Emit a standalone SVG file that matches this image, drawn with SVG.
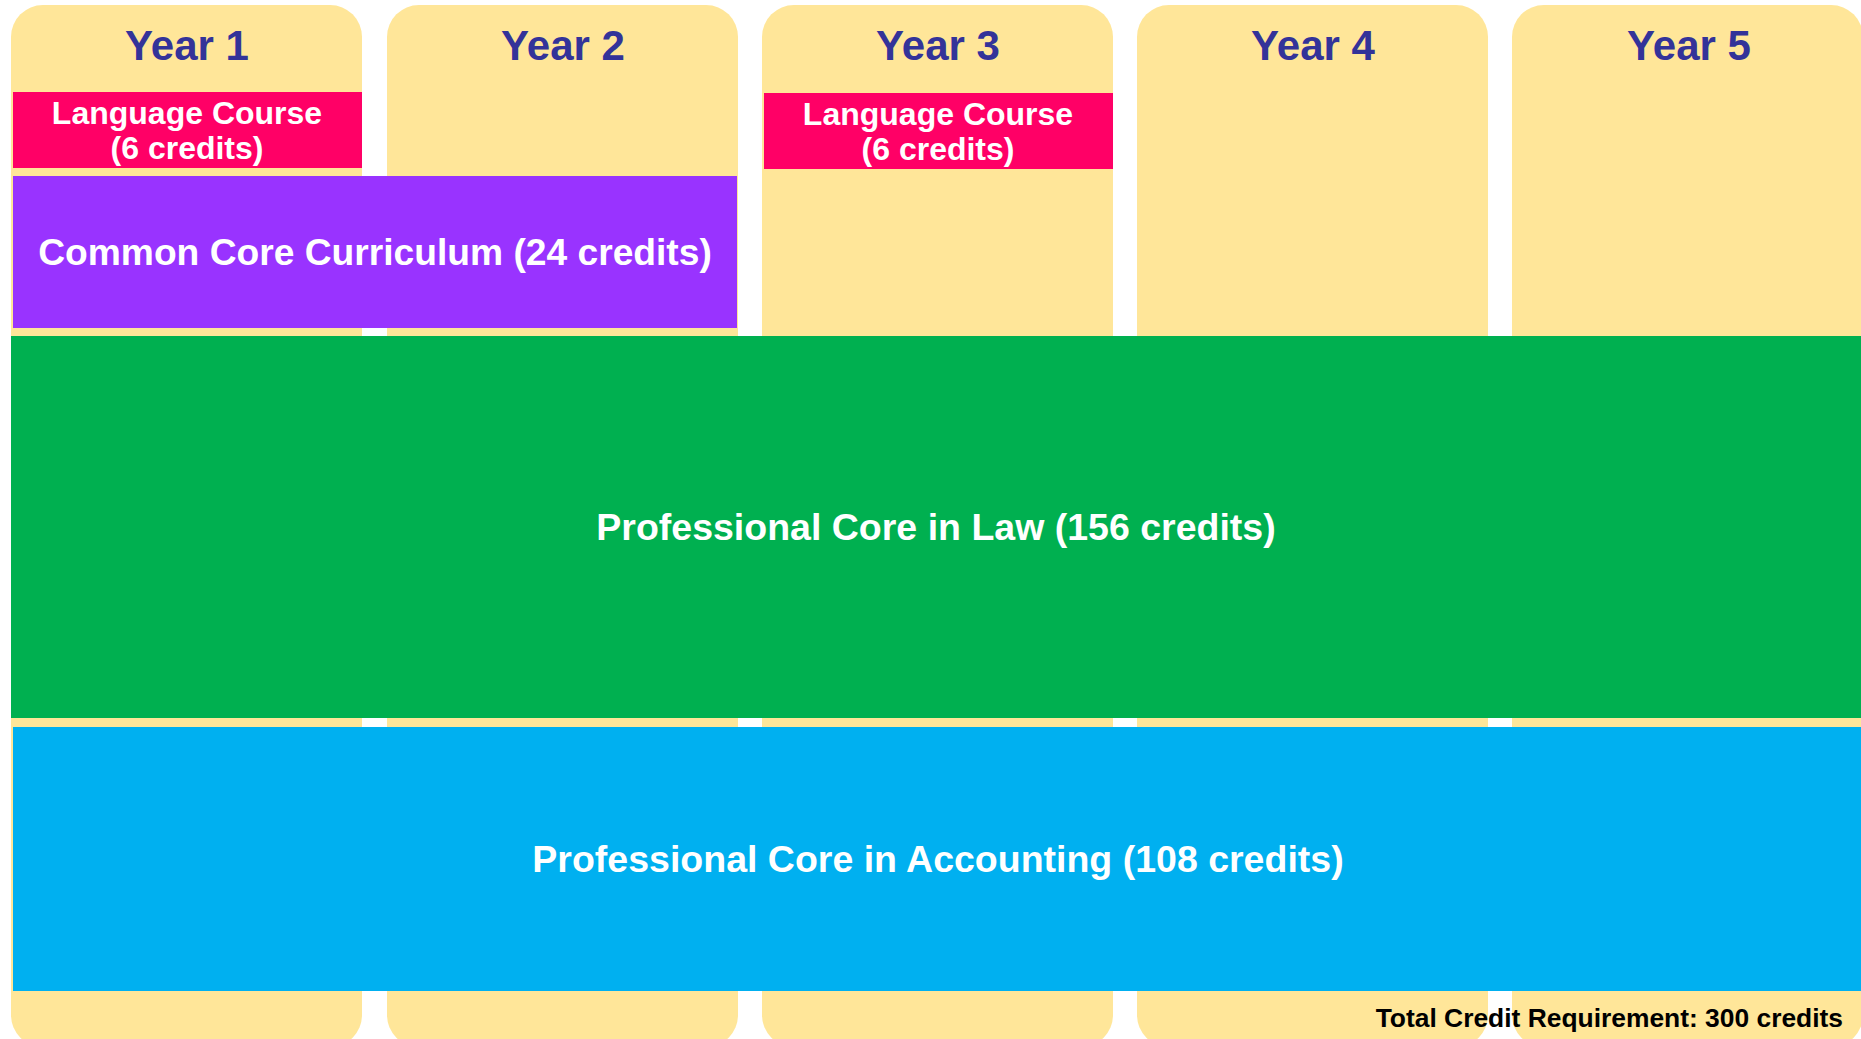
<svg xmlns="http://www.w3.org/2000/svg" width="1861" height="1039" viewBox="0 0 1861 1039">
<style>
.col{fill:#FFE699}
.yr{font-family:"Liberation Sans",Arial,sans-serif;font-weight:bold;font-size:42px;fill:#333399;text-anchor:middle}
.lbl{font-family:"Liberation Sans",Arial,sans-serif;font-weight:bold;fill:#FFFFFF;text-anchor:middle}
.lang{fill:#FF0066}
</style>
<rect width="1861" height="1039" fill="#FFFFFF"/>
<g id="year1"><rect class="col" x="11" y="5" width="351" height="1042" rx="32"/><text class="yr" x="187" y="60">Year 1</text></g>
<g id="year2"><rect class="col" x="387" y="5" width="351" height="1042" rx="32"/><text class="yr" x="563" y="60">Year 2</text></g>
<g id="year3"><rect class="col" x="762" y="5" width="351" height="1042" rx="32"/><text class="yr" x="938" y="60">Year 3</text></g>
<g id="year4"><rect class="col" x="1137" y="5" width="351" height="1042" rx="32"/><text class="yr" x="1313" y="60">Year 4</text></g>
<g id="year5"><rect class="col" x="1512" y="5" width="351" height="1042" rx="32"/><text class="yr" x="1689" y="60">Year 5</text></g>
<g id="lang1"><rect class="lang" x="13" y="92" width="349" height="76"/><text class="lbl" x="187" y="124" font-size="32">Language Course</text><text class="lbl" x="187" y="159" font-size="32">(6 credits)</text></g>
<g id="lang3"><rect class="lang" x="764" y="93" width="349" height="76"/><text class="lbl" x="938" y="125" font-size="32">Language Course</text><text class="lbl" x="938" y="160" font-size="32">(6 credits)</text></g>
<g id="common"><rect x="13" y="176" width="724" height="152" fill="#9933FF"/><text class="lbl" x="375" y="265" font-size="37.2">Common Core Curriculum (24 credits)</text></g>
<g id="law"><rect x="11" y="336" width="1850" height="382" fill="#00B050"/><text class="lbl" x="936" y="540" font-size="37.5">Professional Core in Law (156 credits)</text></g>
<g id="accounting"><rect x="13" y="727" width="1848" height="264" fill="#00B0F0"/><text class="lbl" x="938" y="872" font-size="37.5">Professional Core in Accounting (108 credits)</text></g>
<g id="total"><text x="1843" y="1027" font-family="'Liberation Sans',Arial,sans-serif" font-weight="bold" font-size="26.4" fill="#000000" text-anchor="end">Total Credit Requirement: 300 credits</text></g>
<g id="connectors"/>
</svg>
